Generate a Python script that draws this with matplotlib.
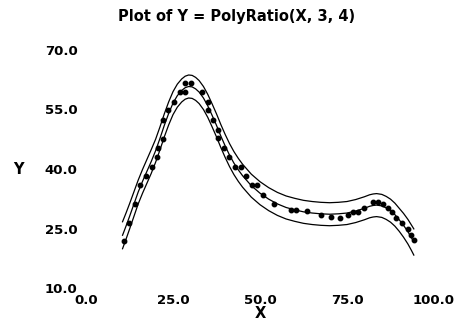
import matplotlib
matplotlib.use("Agg")
import matplotlib.pyplot as plt

# Observed data
x_obs = [11.0, 12.4, 14.1, 15.6, 17.2, 19.1, 20.5, 20.8, 22.0, 22.0,
         23.6, 25.3, 27.0, 28.4, 28.4, 30.1, 33.2, 35.0, 35.0, 36.6,
         38.0, 38.0, 39.7, 41.2, 42.8, 44.5, 46.0, 47.6, 49.2, 50.9,
         54.0, 58.8, 60.3, 63.4, 67.5, 70.3, 73.0, 75.2, 76.8, 78.2,
         79.9, 82.6, 84.0, 85.3, 86.7, 87.9, 89.1, 90.7, 92.4, 93.4, 94.2]
y_obs = [21.8, 26.5, 31.3, 35.9, 38.3, 40.6, 42.9, 45.2, 47.5, 52.3,
         54.8, 56.9, 59.3, 59.3, 61.7, 61.7, 59.4, 56.9, 54.8, 52.3,
         49.9, 47.7, 45.2, 42.9, 40.6, 40.6, 38.2, 35.9, 35.9, 33.5,
         31.2, 29.6, 29.6, 29.5, 28.5, 27.8, 27.7, 28.5, 29.1, 29.1,
         30.2, 31.7, 31.7, 31.2, 30.2, 29.1, 27.7, 26.3, 24.9, 23.4, 22.1]

# Fitted curve with its upper and lower limits
x_fit = [10.5, 11.5, 12.5, 13.75, 15.0, 16.25, 17.5, 18.75, 20.0, 21.25,
         22.5, 23.75, 25.0, 26.25, 27.5, 28.5, 29.5, 30.5, 31.5, 32.5,
         33.75, 35.0, 36.25, 37.5, 38.75, 40.0, 41.25, 42.5, 43.75, 45.0,
         47.5, 50.0, 52.5, 55.0, 57.5, 60.0, 62.5, 65.0, 67.5, 70.0,
         72.5, 75.0, 77.5, 80.0, 81.5, 82.5, 83.5, 85.0, 86.25, 87.5,
         88.75, 90.0, 91.25, 92.5, 93.5, 94.2]
y_fit = [23.3, 25.6, 28.0, 31.1, 34.2, 36.9, 39.4, 41.9, 44.6, 47.7,
         51.0, 54.0, 56.6, 58.5, 59.8, 60.5, 60.8, 60.7, 60.2, 59.4,
         57.9, 55.9, 53.5, 51.0, 48.3, 45.8, 43.5, 41.5, 39.8, 38.3,
         35.8, 33.9, 32.4, 31.2, 30.3, 29.7, 29.2, 28.9, 28.7, 28.6,
         28.7, 28.9, 29.4, 30.1, 30.6, 30.8, 30.9, 30.7, 30.2, 29.5,
         28.5, 27.2, 25.8, 24.2, 22.7, 21.6]
y_upper = [26.7, 28.9, 31.2, 34.2, 37.2, 39.9, 42.4, 44.9, 47.5, 50.6,
           53.9, 56.9, 59.5, 61.4, 62.7, 63.4, 63.7, 63.6, 63.1, 62.3,
           60.8, 58.8, 56.4, 53.9, 51.2, 48.7, 46.4, 44.4, 42.7, 41.2,
           38.7, 36.8, 35.3, 34.1, 33.2, 32.6, 32.1, 31.8, 31.6, 31.5,
           31.6, 31.8, 32.3, 33.0, 33.5, 33.7, 33.8, 33.6, 33.1, 32.4,
           31.4, 30.1, 28.8, 27.3, 25.9, 24.9]
y_lower = [19.9, 22.3, 24.8, 28.0, 31.2, 33.9, 36.4, 38.9, 41.7, 44.8,
           48.1, 51.1, 53.7, 55.6, 56.9, 57.6, 57.9, 57.8, 57.3, 56.5,
           55.0, 53.0, 50.6, 48.1, 45.4, 42.9, 40.6, 38.6, 36.9, 35.4,
           32.9, 31.0, 29.5, 28.3, 27.4, 26.8, 26.3, 26.0, 25.8, 25.7,
           25.8, 26.0, 26.5, 27.2, 27.7, 27.9, 28.0, 27.8, 27.3, 26.6,
           25.6, 24.3, 22.8, 21.1, 19.5, 18.3]

x_ticks = [0.0, 25.0, 50.0, 75.0, 100.0]
y_ticks = [10.0, 25.0, 40.0, 55.0, 70.0]

plt.rcParams["font.family"] = ["DejaVu Sans"]

fig = plt.figure(figsize=(4.6, 3.2), dpi=100)
ax = fig.add_axes([86 / 460, 32 / 320, 348 / 460, 238 / 320])

for curve in (y_upper, y_fit, y_lower):
    ax.plot(x_fit, curve, color="black", linewidth=0.9)
ax.plot(x_obs, y_obs, linestyle="none", marker="o", markersize=3.2,
        color="black")

ax.set_xlim(0, 100)
ax.set_ylim(10, 70)
ax.set_xticks(x_ticks)
ax.set_yticks(y_ticks)
ax.set_xticklabels([f"{v:.1f}" for v in x_ticks], fontsize=9.5,
                   fontweight="bold")
ax.set_yticklabels([f"{v:.1f}" for v in y_ticks], fontsize=9.5,
                   fontweight="bold")
ax.tick_params(axis="x", length=0, pad=4)
ax.tick_params(axis="y", length=0, pad=6)
for s in ax.spines.values():
    s.set_visible(False)

ax.set_xlabel("X", fontsize=10.5, fontweight="bold", va="center")
ax.xaxis.set_label_coords(0.5, -25 / 238)
ax.set_ylabel("Y", fontsize=10.5, fontweight="bold", rotation=0,
              va="center", ha="center")
ax.yaxis.set_label_coords(-68 / 348, 0.5)

fig.text(237 / 460, 1 - 17 / 320, "Plot of Y = PolyRatio(X, 3, 4)",
         ha="center", va="center", fontsize=10.5, fontweight="bold")

fig.savefig("out.png", dpi=100)
